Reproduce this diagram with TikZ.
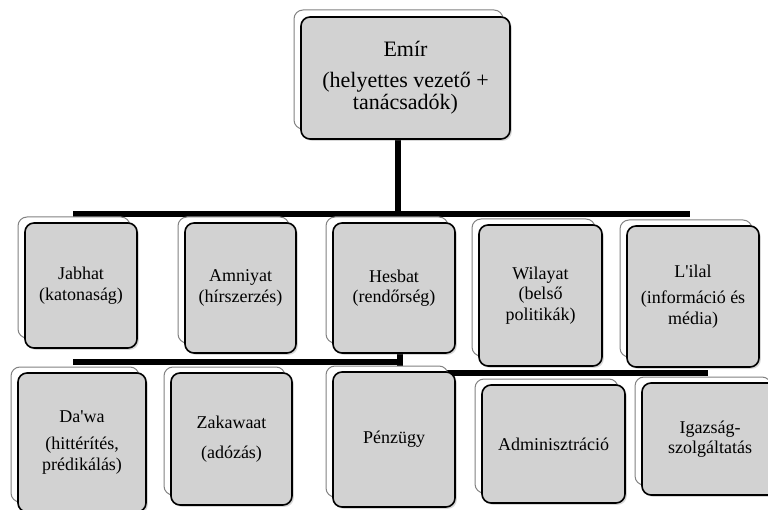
\documentclass[tikz,border=0pt]{standalone}
\usepackage{fontspec}
\setmainfont{Liberation Serif}
\usetikzlibrary{shadows,backgrounds}
\definecolor{boxgray}{RGB}{210,210,210}
\definecolor{backedge}{RGB}{130,130,130}
\tikzset{
  frontbox/.style={draw=black, line width=1.6pt, fill=boxgray, rounded corners=9pt,
    inner sep=0pt, outer sep=0pt, align=center, text=black,
    font=\fontsize{18}{20.5}\selectfont,
    drop shadow={shadow xshift=1.8pt, shadow yshift=-1.8pt, opacity=0.3}},
  backbox/.style={draw=backedge, line width=1pt, fill=white, rounded corners=9pt},
  bar/.style={line width=5.5pt, line cap=butt, draw=black},
}
% name x1 y1 x2 y2 text (pixel coordinates, y downward)
\newcommand\orgbox[6]{%
  \draw[backbox] (#2-7,#3-6) rectangle (#4-7,#5-10);
  \node[frontbox, minimum width={#4pt-#2pt}, minimum height={#5pt-#3pt}]
    (#1) at ({(#2+#4)/2},{(#3+#5)/2}) {#6};
}
\begin{document}
\begin{tikzpicture}[x=1pt,y=-1pt]
\clip (0,0) rectangle (768,510);

% top
\draw[backbox] (294,10) rectangle (503,129);
\node[frontbox, minimum width=209pt, minimum height=122pt,
  font=\fontsize{22}{22.5}\selectfont] (emir) at (405.5,78)
  {Emír\\[8pt](helyettes vezető +\\tanácsadók)};

% row 1
\orgbox{jabhat}{25}{223}{137}{348}{Jabhat\\(katonaság)}
\orgbox{amniyat}{185}{223}{296}{353}{Amniyat\\(hírszerzés)}
\orgbox{hesbat}{333}{223}{455}{353}{Hesbat\\(rendőrség)}
\orgbox{wilayat}{479}{225}{602}{366}{Wilayat\\(belső\\politikák)}
\orgbox{lilal}{627}{226}{759}{367}{L\textquotesingle ilal\\[6pt](információ és\\média)}

% row 2
\orgbox{dawa}{18}{373}{146}{512}{Da\textquotesingle wa\\[7pt](hittérítés,\\prédikálás)}
\orgbox{zakawaat}{171}{373}{292}{505}{Zakawaat\\[9pt](adózás)}
\orgbox{penzugy}{333}{372}{455}{507}{Pénzügy}
\orgbox{admin}{482}{385}{625}{503}{Adminisztráció}
\orgbox{igazsag}{642}{383}{778}{495}{Igazság-\\szolgáltatás}

% connectors
\begin{scope}[on background layer]
  \fill[white] (0,0) rectangle (768,510);
  \coordinate (e1) at (398,214);
  \coordinate (b1l) at (73,214);
  \coordinate (b1r) at (690,214);
  \coordinate (h1) at (400,362);
  \coordinate (b2l) at (73,362);
  \coordinate (h2) at (400,373);
  \coordinate (b2r) at (708,373);
  \draw[bar] (emir.south -| e1) -- (e1);
  \draw[bar] (b1l) -- (b1r);
  \draw[bar] (hesbat.south -| h1) -- (h2);
  \draw[bar] (b2l) -- (h1);
  \draw[bar] (h2) -- (b2r);
\end{scope}
\end{tikzpicture}
\end{document}
